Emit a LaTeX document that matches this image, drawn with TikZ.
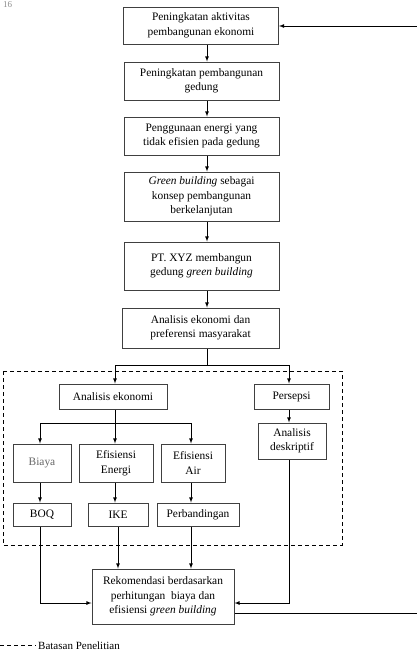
\documentclass[tikz,border=0pt]{standalone}
\usepackage{fontspec}
\setmainfont{Liberation Serif}
\usepackage{tikz}
\usetikzlibrary{arrows}
\pgfdeclarelayer{nodelayer}
\pgfdeclarelayer{edgelayer}
\pgfsetlayers{edgelayer,nodelayer,main}
\tikzstyle{none}=[inner sep=0pt]
\tikzstyle{arrow}=[->, >=latex, line width=0.8pt]
\tikzstyle{line}=[line width=0.8pt]
\tikzstyle{border}=[dashed, dash pattern=on 4pt off 3pt, line width=0.8pt]
\tikzset{box/.style={draw=black!75, line width=1pt, align=center, inner sep=0pt,
font=\fontsize{11.4}{14.5}\selectfont}}

\begin{document}
\begin{tikzpicture}[x=1pt, y=-1pt]
    \useasboundingbox (0,0) rectangle (417,651);
    			\begin{pgfonlayer}{nodelayer}
    				\node [style=box, minimum width=155, minimum height=37] (0) at (201, 25.5) {Peningkatan aktivitas\\pembangunan ekonomi};
    				\node [style=box, minimum width=155, minimum height=38] (1) at (201.5, 81) {Peningkatan pembangunan\\gedung};
    				\node [style=box, minimum width=155, minimum height=38] (2) at (201.5, 136) {Penggunaan energi yang\\tidak efisien pada gedung};
    				\node [style=box, minimum width=155, minimum height=49] (3) at (201.5, 196.5) {\textit{Green building} sebagai\\konsep pembangunan\\berkelanjutan};
    				\node [style=box, minimum width=155, minimum height=48] (4) at (201.5, 266) {PT. XYZ membangun\\gedung \textit{green building}};
    				\node [style=box, minimum width=157, minimum height=40] (5) at (200.5, 328) {Analisis ekonomi dan\\preferensi masyarakat};
    				\node [style=box, minimum width=108, minimum height=25] (6) at (113, 396.5) {Analisis ekonomi};
    				\node [style=box, minimum width=75, minimum height=25] (7) at (291.5, 396.5) {Persepsi};
    				\node [style=box, minimum width=68, minimum height=36] (8) at (292, 441) {Analisis\\deskriptif};
    				\node [style=box, minimum width=58, minimum height=38, text=black!60] (9) at (42, 463) {Biaya};
    				\node [style=box, minimum width=74, minimum height=38] (10) at (116, 463) {Efisiensi\\Energi};
    				\node [style=box, minimum width=64, minimum height=38] (11) at (193, 463) {Efisiensi\\Air};
    				\node [style=box, minimum width=58, minimum height=23] (12) at (42, 514.5) {BOQ};
    				\node [style=box, minimum width=60, minimum height=23] (13) at (118, 514.5) {IKE};
    				\node [style=box, minimum width=82, minimum height=23] (14) at (198, 514.5) {Perbandingan};
    				\node [style=box, minimum width=142, minimum height=55] (15) at (163, 596.5) {Rekomendasi berdasarkan\\perhitungan\ \ biaya dan\\efisiensi \textit{green building}};
    				\node [style=none, anchor=base west, font=\fontsize{11}{13}\selectfont] (16) at (38, 649) {Batasan Penelitian};
    				\node [style=none, anchor=base west, text=black!45, font=\fontsize{9}{10}\selectfont] (17) at (3, 7) {16};
    				\node [style=none] (20) at (207, 365) {};
    				\node [style=none] (21) at (115, 365) {};
    				\node [style=none] (22) at (289, 365) {};
    				\node [style=none] (23) at (115, 423) {};
    				\node [style=none] (24) at (40, 423) {};
    				\node [style=none] (25) at (191, 423) {};
    				\node [style=none] (26) at (40, 603) {};
    				\node [style=none] (27) at (289, 603) {};
    				\node [style=none] (28) at (417, 613) {};
    				\node [style=none] (29) at (417, 26) {};
    				\node [style=none] (30) at (3, 371) {};
    				\node [style=none] (31) at (342, 545) {};
    				\node [style=none] (32) at (0, 645) {};
    				\node [style=none] (33) at (36, 645) {};
    			\end{pgfonlayer}
    			\begin{pgfonlayer}{edgelayer}
    				\draw [style=arrow] (29.center) to (0.east |- 29.center);
    				\draw [style=arrow] (0.south -| 20.center) to (1.north -| 20.center);
    				\draw [style=arrow] (1.south -| 20.center) to (2.north -| 20.center);
    				\draw [style=arrow] (2.south -| 20.center) to (3.north -| 20.center);
    				\draw [style=arrow] (3.south -| 20.center) to (4.north -| 20.center);
    				\draw [style=arrow] (4.south -| 20.center) to (5.north -| 20.center);
    				\draw [style=line] (5.south -| 20.center) to (20.center);
    				\draw [style=line] (21.center) to (22.center);
    				\draw [style=arrow] (21.center) to (6.north -| 21.center);
    				\draw [style=arrow] (22.center) to (7.north -| 22.center);
    				\draw [style=arrow] (7.south -| 22.center) to (8.north -| 22.center);
    				\draw [style=line] (6.south -| 23.center) to (23.center);
    				\draw [style=line] (24.center) to (25.center);
    				\draw [style=arrow] (24.center) to (9.north -| 24.center);
    				\draw [style=arrow] (23.center) to (10.north -| 23.center);
    				\draw [style=arrow] (25.center) to (11.north -| 25.center);
    				\draw [style=arrow] (9.south -| 24.center) to (12.north -| 24.center);
    				\draw [style=arrow] (10.south -| 23.center) to (13.north -| 23.center);
    				\draw [style=arrow] (11.south -| 25.center) to (14.north -| 25.center);
    				\draw [style=arrow] (13.south) to (13.south |- 15.north);
    				\draw [style=arrow] (14.south -| 25.center) to (15.north -| 25.center);
    				\draw [style=arrow] (12.south -| 24.center) to (26.center) to (15.west |- 26.center);
    				\draw [style=arrow] (8.south -| 27.center) to (27.center) to (15.east |- 27.center);
    				\draw [style=line] (15.east |- 28.center) to (28.center);
    				\draw [style=border] (30.center) rectangle (31.center);
    				\draw [style=border] (32.center) to (33.center);
    			\end{pgfonlayer}
\end{tikzpicture}
\end{document}
